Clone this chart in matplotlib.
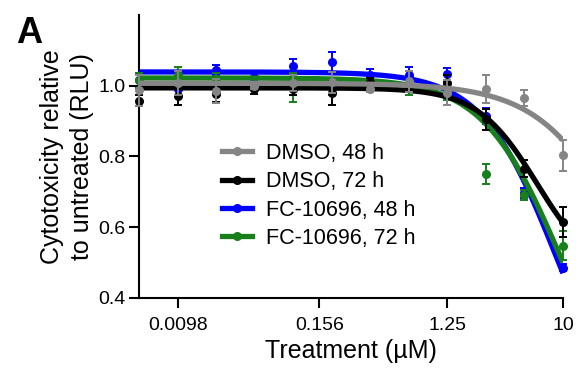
import numpy as np
import matplotlib
matplotlib.use("Agg")
import matplotlib.pyplot as plt
from matplotlib.lines import Line2D

plt.rcParams['font.family'] = ['Liberation Sans', 'DejaVu Sans']

# ---- data ----
conc = [0.0049, 0.0098, 0.0195, 0.039, 0.078, 0.156, 0.3125, 0.625, 1.25, 2.5, 5, 10]

series_names = ["DMSO, 48 h", "DMSO, 72 h", "FC-10696, 48 h", "FC-10696, 72 h"]
series_colors = ["#858585", "#000000", "#0000ff", "#17801a"]

dmso48 = [0.987, 1.008, 0.985, 1.000, 1.007, 1.010, 0.992, 1.012, 0.980, 0.990, 0.965, 0.803]
dmso48_err = [0.044, 0.035, 0.033, 0.010, 0.022, 0.030, 0.010, 0.030, 0.035, 0.040, 0.023, 0.045]
dmso72 = [0.958, 0.970, 0.978, 0.990, 0.990, 0.980, 1.010, 1.000, 1.009, 0.905, 0.766, 0.615]
dmso72_err = [0.015, 0.025, 0.025, 0.012, 0.015, 0.034, 0.012, 0.015, 0.020, 0.030, 0.025, 0.042]
fc48 = [1.015, 0.990, 1.045, 1.025, 1.055, 1.067, 1.030, 1.030, 1.032, 0.915, 0.697, 0.486]
fc48_err = [0.020, 0.015, 0.015, 0.010, 0.020, 0.028, 0.016, 0.022, 0.018, 0.022, 0.015, 0.010]
fc72 = [1.015, 1.030, 1.020, 1.000, 0.995, 0.995, 1.000, 0.995, 0.980, 0.751, 0.690, 0.548]
fc72_err = [0.020, 0.022, 0.015, 0.010, 0.042, 0.020, 0.015, 0.020, 0.020, 0.028, 0.014, 0.040]

# 4-parameter logistic fit parameters (top, bottom, IC50, hill)
fit_dmso48 = [1.007, 0.0, 37.6, 1.25]
fit_dmso72 = [0.994, 0.45, 6.3, 1.85]
fit_fc48 = [1.039, 0.0, 8.8, 1.5]
fit_fc72 = [1.022, 0.0, 9.7, 1.42]

xtick_values = [0.0098, 0.125, 1.25, 10]
xtick_labels = ["0.0098", "0.156", "1.25", "10"]
ytick_values = [0.4, 0.6, 0.8, 1.0]

values = [dmso48, dmso72, fc48, fc72]
errors = [dmso48_err, dmso72_err, fc48_err, fc72_err]
fits = [fit_dmso48, fit_dmso72, fit_fc48, fit_fc72]
zorders = [8, 6, 4, 5]


def logistic(x, p):
    top, bottom, ic50, hill = p
    return bottom + (top - bottom) / (1.0 + (x / ic50) ** hill)


fig = plt.figure(figsize=(5.8, 3.73), dpi=100)
ax = fig.add_axes([0.2397, 0.2011, 0.7310, 0.7587])

xs = np.logspace(np.log10(conc[0]), np.log10(conc[-1]), 300)
for name, col, v, e, p, z in zip(series_names, series_colors, values, errors, fits, zorders):
    ax.plot(xs, logistic(xs, p), color=col, lw=3.8, zorder=z, solid_capstyle='butt')
    ax.errorbar(conc, v, yerr=e, fmt='o', color=col, ms=5.5, capsize=2.8,
                elinewidth=1.4, capthick=1.4, zorder=z + 0.5, clip_on=False)

ax.set_xscale('log')
ax.set_xlim(conc[0], conc[-1])
ax.set_ylim(0.4, 1.2)
ax.set_xticks(xtick_values)
ax.set_xticklabels(xtick_labels)
ax.xaxis.set_minor_locator(matplotlib.ticker.NullLocator())
ax.set_yticks(ytick_values)
ax.set_yticklabels([f"{t:.1f}" for t in ytick_values])

for s in ['top', 'right']:
    ax.spines[s].set_visible(False)
for s in ['left', 'bottom']:
    ax.spines[s].set_linewidth(1.5)
ax.tick_params(axis='both', width=1.5, length=7, labelsize=14)
ax.tick_params(axis='x', pad=7)
ax.tick_params(axis='y', pad=3)

ax.set_xlabel("Treatment (µM)", fontsize=18, labelpad=3)
ax.set_ylabel("Cytotoxicity relative\nto untreated (RLU)", fontsize=18, labelpad=3,
              linespacing=1.28)

handles = [Line2D([0], [0], color=c, lw=3.8, marker='o', ms=5.5) for c in series_colors]
fig.legend(handles, series_names, loc='upper left', bbox_to_anchor=(222 / 580, 1 - 143 / 373),
           frameon=False, fontsize=15.5, handlelength=1.4, handletextpad=0.65,
           labelspacing=0.34, borderpad=0, borderaxespad=0)

fig.text(16 / 580, 1 - 43 / 373, "A", fontsize=26, fontweight='bold', ha='left', va='baseline')

fig.savefig("out.png", dpi=100)
